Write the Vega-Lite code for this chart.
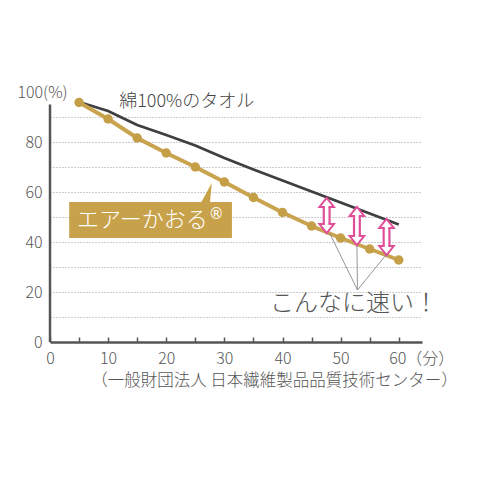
{
  "$schema": "https://vega.github.io/schema/vega-lite/v6.json",
  "width": 372,
  "height": 250,
  "autosize": {"type": "none"},
  "padding": {"left": 50, "top": 92, "right": 58, "bottom": 138},
  "background": "white",
  "config": {"view": {"stroke": null}, "font": "Noto Sans CJK JP"},
  "datasets": {
    "drying": [
      {"minutes": 5, "rate": 96, "series": "cotton"},
      {"minutes": 10, "rate": 92.4, "series": "cotton"},
      {"minutes": 15, "rate": 86.8, "series": "cotton"},
      {"minutes": 20, "rate": 82.8, "series": "cotton"},
      {"minutes": 25, "rate": 78.6, "series": "cotton"},
      {"minutes": 30, "rate": 73.6, "series": "cotton"},
      {"minutes": 35, "rate": 69, "series": "cotton"},
      {"minutes": 40, "rate": 64.6, "series": "cotton"},
      {"minutes": 45, "rate": 60.2, "series": "cotton"},
      {"minutes": 50, "rate": 55.8, "series": "cotton"},
      {"minutes": 55, "rate": 51.4, "series": "cotton"},
      {"minutes": 60, "rate": 47, "series": "cotton"},
      {"minutes": 5, "rate": 95.8, "series": "airkaoru"},
      {"minutes": 10, "rate": 89.2, "series": "airkaoru"},
      {"minutes": 15, "rate": 81.6, "series": "airkaoru"},
      {"minutes": 20, "rate": 75.6, "series": "airkaoru"},
      {"minutes": 25, "rate": 70, "series": "airkaoru"},
      {"minutes": 30, "rate": 64, "series": "airkaoru"},
      {"minutes": 35, "rate": 57.8, "series": "airkaoru"},
      {"minutes": 40, "rate": 51.8, "series": "airkaoru"},
      {"minutes": 45, "rate": 46.4, "series": "airkaoru"},
      {"minutes": 50, "rate": 41.6, "series": "airkaoru"},
      {"minutes": 55, "rate": 37.2, "series": "airkaoru"},
      {"minutes": 60, "rate": 32.8, "series": "airkaoru"}
    ],
    "axisline": [{"minutes": 0, "rate": 0, "rate2": 95}],
    "arrows": [
      {"minutes": 47.6, "rate": 47.2, "rate2": 54.0},
      {"minutes": 52.8, "rate": 42.4, "rate2": 50.4},
      {"minutes": 57.9, "rate": 38.4, "rate2": 45.6}
    ],
    "heads": [
      {"minutes": 47.6, "rate": 54.0, "dir": "up"},
      {"minutes": 47.6, "rate": 47.2, "dir": "down"},
      {"minutes": 52.8, "rate": 50.4, "dir": "up"},
      {"minutes": 52.8, "rate": 42.4, "dir": "down"},
      {"minutes": 57.9, "rate": 45.6, "dir": "up"},
      {"minutes": 57.9, "rate": 38.4, "dir": "down"}
    ],
    "leaders": [
      {"minutes": 48.1, "rate": 43.6, "minutes2": 52.9, "rate2": 20.8},
      {"minutes": 52.8, "rate": 39.6, "minutes2": 52.9, "rate2": 20.8},
      {"minutes": 57.8, "rate": 34.8, "minutes2": 52.9, "rate2": 20.8}
    ],
    "box": [{"minutes": 3.3, "minutes2": 31.3, "rate": 41.6, "rate2": 56}],
    "pointer": [{"minutes": 26.8, "rate": 59.8}]
  },
  "encoding": {
    "x": {
      "field": "minutes",
      "type": "quantitative",
      "scale": {"domain": [0, 64], "nice": false, "zero": false},
      "axis": {
        "values": [0, 5, 10, 15, 20, 25, 30, 35, 40, 45, 50, 55, 60],
        "labelExpr": "datum.value % 10 == 0 ? (datum.value == 60 ? '60（分）' : datum.label) : ''",
        "grid": false,
        "domainColor": "#555555",
        "domainWidth": 2.5,
        "tickColor": "#555555",
        "tickWidth": 1.5,
        "tickSize": -5,
        "labelPadding": 13,
        "labelFontSize": 16,
        "labelFontWeight": 300,
        "labelColor": "#555555",
        "labelFlush": false,
        "labelOverlap": false,
        "labelAlign": {"condition": {"test": "datum.value == 60", "value": "left"}, "value": "center"},
        "labelOffset": {"condition": {"test": "datum.value == 60", "value": -10}, "value": 0},
        "title": "（一般財団法人 日本繊維製品品質技術センター）",
        "titleFontSize": 16.5,
        "titleFontWeight": 300,
        "titleColor": "#555555",
        "titleX": 224,
        "titleY": 30,
        "titleAlign": "center",
        "titleBaseline": "top"
      }
    },
    "y": {
      "field": "rate",
      "type": "quantitative",
      "scale": {"domain": [0, 100], "nice": false},
      "axis": {
        "values": [0, 10, 20, 30, 40, 50, 60, 70, 80, 90, 100],
        "labelExpr": "datum.value % 20 == 0 ? (datum.value == 100 ? '100(%)' : datum.label) : ''",
        "grid": true,
        "gridColor": "#9a9a9a",
        "gridDash": [1, 2],
        "gridWidth": 1,
        "gridOpacity": {"condition": {"test": "datum.value == 0 || datum.value == 100", "value": 0}, "value": 1},
        "domain": false,
        "ticks": false,
        "labelPadding": 8,
        "labelFontSize": 16,
        "labelFontWeight": 300,
        "labelColor": "#555555",
        "labelOverlap": false,
        "labelAlign": {"condition": {"test": "datum.value == 100", "value": "center"}, "value": "right"},
        "title": null
      }
    }
  },
  "layer": [
    {
      "data": {"name": "axisline"},
      "mark": {"type": "rule", "color": "#555555", "strokeWidth": 2.5},
      "encoding": {"y2": {"field": "rate2"}}
    },
    {
      "data": {"name": "drying"},
      "transform": [{"filter": "datum.series == 'cotton'"}],
      "mark": {"type": "line", "color": "#3f3f3f", "strokeWidth": 2.8}
    },
    {
      "data": {"name": "drying"},
      "transform": [{"filter": "datum.series == 'airkaoru'"}],
      "mark": {"type": "line", "color": "#C9A34E", "strokeWidth": 4}
    },
    {
      "data": {"name": "drying"},
      "transform": [{"filter": "datum.series == 'airkaoru'"}],
      "mark": {"type": "point", "filled": true, "color": "#C59F48", "size": 90, "opacity": 1}
    },
    {
      "data": {"name": "leaders"},
      "mark": {"type": "rule", "color": "#8a8a8a", "strokeWidth": 0.9},
      "encoding": {"x2": {"field": "minutes2"}, "y2": {"field": "rate2"}}
    },
    {
      "data": {"name": "arrows"},
      "mark": {"type": "rule", "color": "#E04E98", "strokeWidth": 8},
      "encoding": {"y2": {"field": "rate2"}}
    },
    {
      "data": {"name": "arrows"},
      "mark": {"type": "rule", "color": "#ffffff", "strokeWidth": 3.6},
      "encoding": {"y2": {"field": "rate2"}}
    },
    {
      "data": {"name": "heads"},
      "mark": {"type": "point", "filled": true, "fill": "#ffffff", "stroke": "#E04E98", "strokeWidth": 2, "size": 210, "opacity": 1},
      "encoding": {
        "shape": {
          "field": "dir",
          "type": "nominal",
          "scale": {"domain": ["up", "down"], "range": ["M -0.25 0 L -1 0 L 0 -1.25 L 1 0 L 0.25 0", "M -0.25 0 L -1 0 L 0 1.25 L 1 0 L 0.25 0"]},
          "legend": null
        }
      }
    },
    {
      "data": {"name": "box"},
      "mark": {"type": "rect", "color": "#C8A24B"},
      "encoding": {"x2": {"field": "minutes2"}, "y2": {"field": "rate2"}}
    },
    {
      "data": {"name": "pointer"},
      "mark": {"type": "point", "filled": true, "color": "#C8A24B", "size": 324, "opacity": 1, "shape": "M -0.67 1.4 L 0.44 1.4 L 0.67 -1.05 Z"}
    },
    {
      "data": {"values": [{"minutes": 4.64, "rate": 48.8, "label": "エアーかおる"}]},
      "mark": {"type": "text", "align": "left", "baseline": "middle", "fontSize": 22, "color": "#ffffff", "fontWeight": 300},
      "encoding": {"text": {"field": "label"}}
    },
    {
      "data": {"values": [{"minutes": 27.3, "rate": 51.4, "label": "®"}]},
      "mark": {"type": "text", "align": "left", "baseline": "middle", "fontSize": 15, "color": "#ffffff", "font": "DejaVu Sans"},
      "encoding": {"text": {"field": "label"}}
    },
    {
      "data": {"values": [{"minutes": 11.9, "rate": 96, "label": "綿100%のタオル"}]},
      "mark": {"type": "text", "align": "left", "baseline": "middle", "fontSize": 18, "color": "#444444", "fontWeight": 300},
      "encoding": {"text": {"field": "label"}}
    },
    {
      "data": {"values": [{"minutes": 52.3, "rate": 15.2, "label": "こんなに速い！"}]},
      "mark": {"type": "text", "align": "center", "baseline": "middle", "fontSize": 24, "color": "#555555", "fontWeight": 300},
      "encoding": {"text": {"field": "label"}}
    }
  ]
}
